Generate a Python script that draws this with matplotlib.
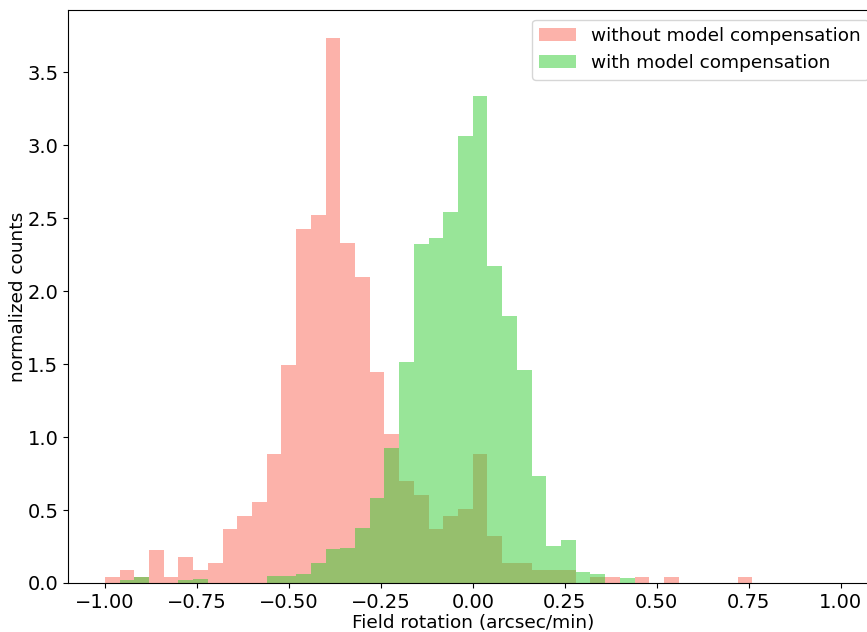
import numpy as np
import matplotlib
matplotlib.use("Agg")
import matplotlib.pyplot as plt

# Bin edges: 50 bins of width 0.04 from -1 to 1
bin_edges = np.linspace(-1.0, 1.0, 51)

# normalized counts, without model compensation (per bin)
without_comp = [0.043, 0.091, 0.043, 0.227, 0.043, 0.180, 0.091, 0.137, 0.370, 0.460,
                0.556, 0.885, 1.495, 2.428, 2.524, 3.738, 2.332, 2.099, 1.447, 1.022,
                0.700, 0.604, 0.370, 0.460, 0.508, 0.885, 0.322, 0.137, 0.137, 0.091,
                0.091, 0.091, 0.000, 0.043, 0.043, 0.000, 0.043, 0.000, 0.043, 0.000,
                0.000, 0.000, 0.000, 0.043, 0.000, 0.000, 0.000, 0.000, 0.000, 0.000]

# normalized counts, with model compensation (per bin)
with_comp = [0.000, 0.020, 0.040, 0.000, 0.000, 0.020, 0.030, 0.000, 0.000, 0.000,
             0.000, 0.050, 0.050, 0.064, 0.135, 0.230, 0.242, 0.377, 0.583, 0.926,
             1.516, 2.325, 2.366, 2.545, 3.066, 3.340, 2.174, 1.830, 1.461, 0.734,
             0.254, 0.295, 0.075, 0.062, 0.000, 0.034, 0.000, 0.000, 0.000, 0.000,
             0.000, 0.000, 0.000, 0.000, 0.000, 0.000, 0.000, 0.000, 0.000, 0.000]

labels = ["without model compensation", "with model compensation"]

centers = 0.5 * (bin_edges[:-1] + bin_edges[1:])

fig = plt.figure(figsize=(8.67, 6.32), dpi=100)
ax = fig.add_axes([68 / 867, 49 / 632, (877.5 - 68) / 867, (583 - 10.3) / 632])

ax.hist(centers, bins=bin_edges, weights=without_comp, color="salmon", alpha=0.6,
        label=labels[0])
ax.hist(centers, bins=bin_edges, weights=with_comp, color="limegreen", alpha=0.5,
        label=labels[1])

ax.set_xlabel("Field rotation (arcsec/min)", fontsize=13.3, labelpad=2)
ax.set_ylabel("normalized counts", fontsize=13.3, labelpad=0)
ax.tick_params(labelsize=14)
ax.legend(loc="upper right", fontsize=13.3)

fig.savefig("out.png", dpi=100)
